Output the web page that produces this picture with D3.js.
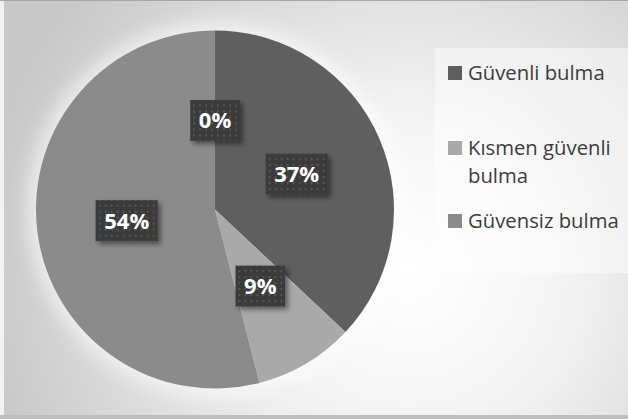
<!DOCTYPE html>
<html>
<head>
<meta charset="utf-8">
<script src="https://cdn.jsdelivr.net/npm/d3@7"></script>
<style>
  body { margin: 0; background: #fff; }
  svg { display: block; }
</style>
</head>
<body>
<div id="chart"></div>
<script>
// data
const categories = ["Güvenli bulma", "Kısmen güvenli bulma", "Güvensiz bulma", ""];
const values = [37, 9, 54, 0];
const labels = ["37%", "9%", "54%", "0%"];
const legendLines = [["Güvenli bulma"], ["Kısmen güvenli", "bulma"], ["Güvensiz bulma"]];
const colours = ["#5f5f5f", "#a9a9a9", "#8b8b8b", "#7a7a7a"];

const W = 628, H = 419;
const cx = 215, cy = 209.5, radius = 179;

const svg = d3.select("#chart").append("svg")
  .attr("width", W)
  .attr("height", H);

const defs = svg.append("defs");

// background gradient
const bg = defs.append("radialGradient")
  .attr("id", "bgGrad")
  .attr("gradientUnits", "userSpaceOnUse")
  .attr("cx", 410).attr("cy", 270).attr("r", 430);
bg.append("stop").attr("offset", "0%").attr("stop-color", "#ffffff");
bg.append("stop").attr("offset", "35%").attr("stop-color", "#f4f4f4");
bg.append("stop").attr("offset", "100%").attr("stop-color", "#c8c8c8");

// dotted pattern for label boxes
const pat = defs.append("pattern")
  .attr("id", "dots")
  .attr("patternUnits", "userSpaceOnUse")
  .attr("width", 6).attr("height", 6);
pat.append("rect").attr("width", 6).attr("height", 6).attr("fill", "#3b3b3b");
pat.append("rect").attr("x", 2).attr("y", 2).attr("width", 2).attr("height", 2).attr("fill", "#555555");

const shadow = defs.append("filter").attr("id", "shadow")
  .attr("x", "-30%").attr("y", "-30%").attr("width", "170%").attr("height", "170%");
shadow.append("feDropShadow")
  .attr("dx", 3).attr("dy", 3).attr("stdDeviation", 2.5)
  .attr("flood-color", "#000").attr("flood-opacity", 0.45);

const glow = defs.append("filter").attr("id", "glow")
  .attr("x", "-30%").attr("y", "-30%").attr("width", "160%").attr("height", "160%");
glow.append("feGaussianBlur").attr("stdDeviation", 9);

// background + frame
svg.append("rect")
  .attr("x", 0).attr("y", 0).attr("width", W).attr("height", H)
  .attr("fill", "url(#bgGrad)");
svg.append("rect")
  .attr("x", 0).attr("y", 0).attr("width", 4).attr("height", H)
  .attr("fill", "#f2f2f2");
svg.append("rect")
  .attr("x", 0).attr("y", H - 4).attr("width", W).attr("height", 4)
  .attr("fill", "#bdbdbd");
svg.append("line")
  .attr("x1", 0).attr("x2", W).attr("y1", 0.5).attr("y2", 0.5)
  .attr("stroke", "#a6a6a6");

// halo behind the pie
svg.append("circle")
  .attr("cx", cx).attr("cy", cy).attr("r", radius + 8)
  .attr("fill", "#ffffff").attr("opacity", 0.6)
  .attr("filter", "url(#glow)");

// legend box
svg.append("rect")
  .attr("x", 435).attr("y", 48).attr("width", W - 435).attr("height", 225)
  .attr("fill", "#ffffff").attr("opacity", 0.45);

// pie
const pie = d3.pie().sort(null).value(d => d);
const arcs = pie(values);
const arc = d3.arc().innerRadius(0).outerRadius(radius);

const g = svg.append("g").attr("transform", `translate(${cx},${cy})`);

g.selectAll("path.slice")
  .data(arcs)
  .join("path")
  .attr("class", "slice")
  .attr("d", arc)
  .attr("fill", (d, i) => colours[i]);

const labR = 89;
const lab = g.selectAll("g.lab")
  .data(arcs)
  .join("g")
  .attr("class", "lab")
  .attr("transform", d => {
    const a = (d.startAngle + d.endAngle) / 2;
    return `translate(${Math.sin(a) * labR},${-Math.cos(a) * labR})`;
  });

lab.each(function(d, i) {
  const sel = d3.select(this);
  const t = sel.append("text")
    .attr("text-anchor", "middle")
    .attr("dy", "0.36em")
    .attr("font-family", "'Open Sans', sans-serif")
    .attr("font-weight", "bold")
    .attr("font-size", 22)
    .attr("fill", "#ffffff")
    .text(labels[i]);
  const bb = t.node().getBBox();
  const bw = bb.width + 17, bh = 41;
  sel.insert("rect", "text")
    .attr("x", -bw / 2).attr("y", -bh / 2)
    .attr("width", bw).attr("height", bh)
    .attr("fill", "url(#dots)")
    .attr("filter", "url(#shadow)");
});

// legend
const legendY = [73, 148, 221];
const leg = svg.append("g");
legendLines.forEach((lines, i) => {
  leg.append("rect")
    .attr("x", 448).attr("y", legendY[i] - 7)
    .attr("width", 14).attr("height", 14)
    .attr("fill", colours[i]);
  lines.forEach((line, j) => {
    leg.append("text")
      .attr("x", 468).attr("y", legendY[i] + j * 28)
      .attr("dy", "0.35em")
      .attr("font-family", "'Open Sans', sans-serif")
      .attr("font-size", 20.3)
      .attr("fill", "#3c3c3c")
      .text(line);
  });
});
</script>
</body>
</html>
